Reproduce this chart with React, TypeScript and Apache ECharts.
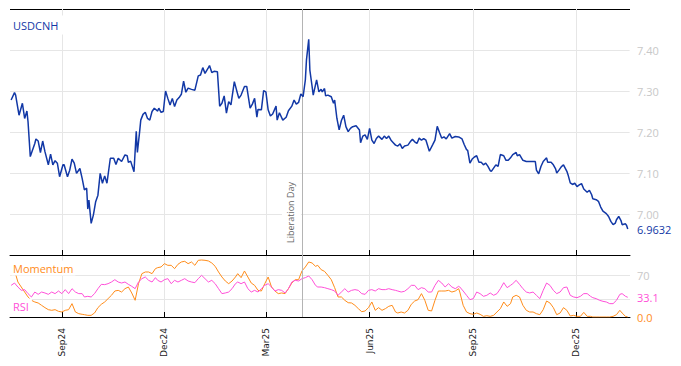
import React, { useEffect, useRef } from 'react';
import * as echarts from 'echarts';

const mainDates = [
  '2024-07-18','2024-07-21','2024-07-22','2024-07-25','2024-07-28','2024-07-30','2024-08-01','2024-08-02','2024-08-04','2024-08-08',
  '2024-08-09','2024-08-11','2024-08-13','2024-08-15','2024-08-17','2024-08-20','2024-08-22','2024-08-24','2024-08-26','2024-08-28',
  '2024-08-30','2024-09-02','2024-09-03','2024-09-06','2024-09-08','2024-09-10','2024-09-12','2024-09-14','2024-09-17','2024-09-19',
  '2024-09-21','2024-09-23','2024-09-24','2024-09-25','2024-09-27','2024-09-29','2024-10-01','2024-10-03','2024-10-05','2024-10-07',
  '2024-10-09','2024-10-11','2024-10-14','2024-10-17','2024-10-19','2024-10-21','2024-10-24','2024-10-27','2024-10-29','2024-10-30',
  '2024-11-01','2024-11-04','2024-11-06','2024-11-07','2024-11-09','2024-11-10','2024-11-12','2024-11-14','2024-11-16','2024-11-18',
  '2024-11-20','2024-11-22','2024-11-25','2024-11-26','2024-11-28','2024-11-30','2024-12-02','2024-12-04','2024-12-06','2024-12-08',
  '2024-12-10','2024-12-12','2024-12-14','2024-12-16','2024-12-18','2024-12-20','2024-12-22','2024-12-25','2024-12-28','2024-12-31',
  '2025-01-02','2025-01-04','2025-01-06','2025-01-09','2025-01-10','2025-01-12','2025-01-14','2025-01-17','2025-01-19','2025-01-21',
  '2025-01-23','2025-01-25','2025-01-27','2025-01-29','2025-02-01','2025-02-03','2025-02-05','2025-02-07','2025-02-10','2025-02-12',
  '2025-02-15','2025-02-17','2025-02-19','2025-02-21','2025-02-22','2025-02-25','2025-02-27','2025-03-01','2025-03-03','2025-03-05',
  '2025-03-07','2025-03-10','2025-03-11','2025-03-13','2025-03-16','2025-03-19','2025-03-21','2025-03-24','2025-03-26','2025-03-28',
  '2025-03-30','2025-04-01','2025-04-03','2025-04-05','2025-04-06','2025-04-08','2025-04-09','2025-04-11','2025-04-12','2025-04-14',
  '2025-04-15','2025-04-17','2025-04-19','2025-04-20','2025-04-22','2025-04-23','2025-04-25','2025-04-28','2025-04-30','2025-05-01',
  '2025-05-03','2025-05-05','2025-05-07','2025-05-09','2025-05-11','2025-05-13','2025-05-15','2025-05-17','2025-05-20','2025-05-23',
  '2025-05-24','2025-05-26','2025-05-28','2025-05-30','2025-06-01','2025-06-03','2025-06-05','2025-06-07','2025-06-09','2025-06-12',
  '2025-06-14','2025-06-16','2025-06-18','2025-06-20','2025-06-22','2025-06-24','2025-06-26','2025-06-28','2025-06-30','2025-07-02',
  '2025-07-05','2025-07-07','2025-07-09','2025-07-11','2025-07-13','2025-07-15','2025-07-17','2025-07-19','2025-07-21','2025-07-24',
  '2025-07-27','2025-07-29','2025-07-31','2025-08-02','2025-08-04','2025-08-06','2025-08-08','2025-08-11','2025-08-13','2025-08-16',
  '2025-08-19','2025-08-22','2025-08-24','2025-08-26','2025-08-27','2025-08-29','2025-08-31','2025-09-02','2025-09-04','2025-09-06',
  '2025-09-08','2025-09-10','2025-09-12','2025-09-14','2025-09-16','2025-09-17','2025-09-19','2025-09-21','2025-09-23','2025-09-25',
  '2025-09-28','2025-09-30','2025-10-02','2025-10-04','2025-10-06','2025-10-09','2025-10-10','2025-10-12','2025-10-15','2025-10-18',
  '2025-10-21','2025-10-24','2025-10-26','2025-10-27','2025-10-29','2025-10-31','2025-11-02','2025-11-05','2025-11-06','2025-11-09',
  '2025-11-11','2025-11-13','2025-11-14','2025-11-16','2025-11-18','2025-11-20','2025-11-23','2025-11-24','2025-11-26','2025-11-28',
  '2025-11-30','2025-12-02','2025-12-04','2025-12-06','2025-12-08','2025-12-11','2025-12-13','2025-12-15','2025-12-16','2025-12-19',
  '2025-12-21','2025-12-23','2025-12-25','2025-12-28','2025-12-30','2026-01-01','2026-01-03','2026-01-05','2026-01-06','2026-01-08',
  '2026-01-10','2026-01-11','2026-01-14','2026-01-15','2026-01-16'
];

const usdcnh = [
  7.278,7.296,7.290,7.241,7.270,7.233,7.251,7.225,7.140,7.172,
  7.183,7.178,7.150,7.178,7.152,7.120,7.146,7.120,7.130,7.124,
  7.091,7.120,7.120,7.091,7.107,7.134,7.124,7.099,7.111,7.087,
  7.059,7.063,7.012,7.034,6.977,6.998,7.030,7.046,7.099,7.075,
  7.093,7.075,7.136,7.136,7.121,7.136,7.128,7.144,7.142,7.126,
  7.129,7.103,7.202,7.150,7.201,7.229,7.243,7.248,7.233,7.229,
  7.250,7.258,7.251,7.258,7.248,7.250,7.300,7.282,7.266,7.282,
  7.262,7.278,7.284,7.292,7.324,7.297,7.307,7.304,7.302,7.337,
  7.339,7.357,7.343,7.357,7.362,7.345,7.348,7.347,7.263,7.270,
  7.288,7.246,7.274,7.266,7.323,7.302,7.282,7.290,7.311,7.311,
  7.258,7.268,7.282,7.236,7.255,7.254,7.301,7.298,7.254,7.239,
  7.244,7.263,7.229,7.247,7.229,7.236,7.252,7.263,7.278,7.268,
  7.272,7.293,7.286,7.327,7.376,7.426,7.351,7.311,7.290,7.315,
  7.327,7.298,7.304,7.298,7.306,7.288,7.290,7.286,7.270,7.278,
  7.233,7.205,7.228,7.241,7.213,7.201,7.209,7.213,7.215,7.205,
  7.174,7.190,7.193,7.182,7.209,7.180,7.172,7.184,7.190,7.182,
  7.190,7.184,7.190,7.180,7.174,7.168,7.166,7.171,7.160,7.166,
  7.168,7.176,7.182,7.176,7.172,7.185,7.180,7.184,7.180,7.153,
  7.169,7.180,7.214,7.199,7.185,7.188,7.183,7.196,7.185,7.189,
  7.188,7.183,7.169,7.157,7.155,7.124,7.134,7.139,7.142,7.126,
  7.126,7.120,7.124,7.116,7.106,7.104,7.112,7.120,7.116,7.145,
  7.142,7.131,7.131,7.137,7.145,7.150,7.142,7.145,7.131,7.128,
  7.128,7.128,7.128,7.107,7.098,7.116,7.128,7.137,7.126,7.126,
  7.120,7.110,7.100,7.107,7.115,7.120,7.104,7.096,7.076,7.072,
  7.075,7.067,7.071,7.074,7.061,7.053,7.058,7.047,7.037,7.035,
  7.031,7.017,7.007,7.001,6.994,6.982,6.974,6.978,6.986,6.994,
  6.984,6.974,6.976,6.972,6.9632
];

const indicatorDates = [
  '2024-07-18','2024-07-21','2024-07-24','2024-07-27','2024-07-30','2024-08-02','2024-08-05','2024-08-08','2024-08-11','2024-08-14',
  '2024-08-17','2024-08-20','2024-08-23','2024-08-26','2024-08-29','2024-09-01','2024-09-04','2024-09-07','2024-09-10','2024-09-13',
  '2024-09-16','2024-09-19','2024-09-21','2024-09-24','2024-09-27','2024-09-30','2024-10-03','2024-10-06','2024-10-09','2024-10-12',
  '2024-10-15','2024-10-18','2024-10-21','2024-10-24','2024-10-27','2024-10-30','2024-11-02','2024-11-05','2024-11-08','2024-11-11',
  '2024-11-14','2024-11-17','2024-11-20','2024-11-23','2024-11-25','2024-11-28','2024-12-01','2024-12-04','2024-12-07','2024-12-10',
  '2024-12-13','2024-12-16','2024-12-19','2024-12-22','2024-12-25','2024-12-28','2024-12-31','2025-01-03','2025-01-06','2025-01-09',
  '2025-01-12','2025-01-15','2025-01-18','2025-01-21','2025-01-24','2025-01-27','2025-01-30','2025-02-02','2025-02-04','2025-02-07',
  '2025-02-10','2025-02-13','2025-02-16','2025-02-19','2025-02-22','2025-02-25','2025-02-28','2025-03-03','2025-03-06','2025-03-09',
  '2025-03-12','2025-03-15','2025-03-18','2025-03-21','2025-03-24','2025-03-27','2025-03-30','2025-04-02','2025-04-05','2025-04-08',
  '2025-04-11','2025-04-14','2025-04-16','2025-04-19','2025-04-22','2025-04-25','2025-04-28','2025-05-01','2025-05-04','2025-05-07',
  '2025-05-10','2025-05-13','2025-05-16','2025-05-19','2025-05-22','2025-05-25','2025-05-28','2025-05-31','2025-06-03','2025-06-06',
  '2025-06-09','2025-06-12','2025-06-15','2025-06-18','2025-06-21','2025-06-24','2025-06-26','2025-06-29','2025-07-02','2025-07-05',
  '2025-07-08','2025-07-11','2025-07-14','2025-07-17','2025-07-20','2025-07-23','2025-07-26','2025-07-29','2025-08-01','2025-08-04',
  '2025-08-07','2025-08-10','2025-08-13','2025-08-16','2025-08-19','2025-08-20','2025-08-23','2025-08-26','2025-08-29','2025-09-01',
  '2025-09-04','2025-09-07','2025-09-10','2025-09-13','2025-09-16','2025-09-19','2025-09-22','2025-09-25','2025-09-28','2025-10-01',
  '2025-10-04','2025-10-06','2025-10-09','2025-10-12','2025-10-15','2025-10-18','2025-10-21','2025-10-24','2025-10-27','2025-10-30',
  '2025-11-02','2025-11-05','2025-11-08','2025-11-11','2025-11-14','2025-11-17','2025-11-20','2025-11-23','2025-11-26','2025-11-29',
  '2025-12-02','2025-12-05','2025-12-08','2025-12-11','2025-12-14','2025-12-16','2025-12-19','2025-12-22','2025-12-25','2025-12-28',
  '2025-12-31','2026-01-03','2026-01-06','2026-01-09','2026-01-11','2026-01-14','2026-01-16'
];

const momentum = [
  69.9,78.3,58.7,50.3,41.9,33.6,28.0,25.2,23.5,19.6,
  15.7,12.3,11.2,12.3,9.5,8.4,11.2,12.3,22.4,8.4,
  5.6,4.5,3.9,2.8,2.8,6.7,15.7,21.3,25.2,30.8,
  36.4,43.6,44.7,41.9,47.5,50.3,40.3,28.0,55.9,72.7,
  75.5,75.5,72.7,81.1,82.8,83.9,89.5,86.7,86.7,81.1,
  88.4,92.3,93.4,89.5,92.3,86.7,95.1,95.6,95.1,94.0,
  90.6,85.0,75.5,67.1,60.4,55.9,60.4,67.1,72.7,66.0,
  77.2,67.1,57.0,53.1,44.7,43.6,55.9,67.1,50.3,43.6,
  39.2,40.3,39.2,47.5,57.0,62.6,62.6,77.2,83.9,92.3,
  90.6,85.0,86.7,79.4,76.6,69.9,62.6,49.2,33.6,33.6,
  28.0,24.0,23.5,19.6,14.0,8.9,10.1,15.7,25.2,11.2,
  15.7,11.2,14.0,17.9,19.6,8.4,6.7,8.4,6.7,11.2,
  21.3,26.8,29.1,39.2,28.0,11.2,10.1,28.0,43.6,43.6,
  43.6,44.7,41.9,43.6,47.5,41.9,19.6,8.4,5.6,4.5,
  6.7,4.5,1.1,2.2,1.1,2.8,8.4,14.0,25.2,17.9,
  22.4,33.6,36.4,33.6,19.6,11.2,8.4,8.4,5.6,3.9,
  12.3,26.8,23.5,15.7,3.9,6.7,15.7,11.2,1.7,2.8,
  1.1,1.1,7.8,1.1,1.1,0,0,0,0,0,
  0,1.1,3.9,11.2,6.7,1.1,0
];

const rsi = [
  53.1,57.0,50.3,44.7,45.9,39.2,33.6,41.9,38.0,41.9,
  40.3,38.0,41.9,39.2,43.6,39.2,45.9,39.2,47.5,41.9,
  39.2,39.2,33.6,34.7,33.6,39.2,47.5,54.8,54.3,55.9,
  58.7,62.6,58.7,57.0,58.7,54.8,51.5,47.5,58.7,64.3,
  67.1,61.5,58.7,66.0,61.5,58.7,62.6,64.3,55.9,61.5,
  58.7,61.5,64.3,60.4,58.7,57.6,64.3,69.9,64.3,58.7,
  61.5,55.9,47.5,39.2,40.3,41.9,47.5,55.9,58.7,55.9,
  58.7,47.5,41.9,44.7,41.9,47.5,53.1,55.9,50.3,43.6,
  45.9,44.7,40.3,47.5,58.7,61.5,60.4,64.3,66.0,68.8,
  62.6,53.1,50.3,50.3,49.2,47.5,45.9,43.6,36.4,41.9,
  47.5,41.9,44.7,45.9,44.7,39.2,38.0,44.7,45.9,43.6,
  47.5,45.9,45.9,47.5,45.9,44.7,43.6,41.9,43.1,47.5,
  53.1,53.1,45.9,49.2,47.5,41.9,41.9,53.1,61.5,57.0,
  50.3,55.9,50.3,47.5,51.5,50.3,43.6,36.4,29.1,30.8,
  41.9,39.2,34.7,36.4,40.3,36.4,39.2,47.5,57.6,49.2,
  53.1,55.9,61.5,54.8,47.5,41.9,40.3,41.9,36.4,30.8,
  44.7,57.0,53.1,44.7,39.2,41.9,49.2,50.3,36.4,33.6,
  32.4,34.7,39.2,39.2,34.7,32.4,30.8,28.0,26.3,25.2,
  22.4,22.4,28.0,38.0,39.2,34.7,33.1
];

const xTickDates = ['2024-09-01', '2024-12-01', '2025-03-01', '2025-06-01', '2025-09-01', '2025-12-01'];
const xRange = ['2024-07-17', '2026-01-18'];
const priceTicks = [7.0, 7.1, 7.2, 7.3, 7.4];
const priceRange = [6.9, 7.5];
const indicatorGridValues = [30, 70];
const indicatorTickLabels = [70];
const indicatorRange = [0, 104];
const eventDate = '2025-04-02';
const eventName = 'Liberation Day';
const MONTHS = ['Jan', 'Feb', 'Mar', 'Apr', 'May', 'Jun', 'Jul', 'Aug', 'Sep', 'Oct', 'Nov', 'Dec'];

const toMs = (s: string) => {
  const [y, m, d] = s.split('-').map(Number);
  return Date.UTC(y, m - 1, d);
};

export default function App() {
  const ref = useRef<HTMLDivElement>(null);
  useEffect(() => {
    document.body.style.margin = '0';
    const chart = echarts.init(ref.current!, null, { renderer: 'svg' });
    const FONT = '"Open Sans", sans-serif';
    const BLUE = '#1238a6';
    const ORANGE = '#ff8c1a';
    const PINK = '#ff50d8';
    const GRIDC = '#e6e6e6';
    const LABELC = '#c8c8c8';
    const xMin = toMs(xRange[0]);
    const xMax = toMs(xRange[1]);
    const xTicks = xTickDates.map(toMs);
    const fmtDate = (v: number) => {
      const d = new Date(v);
      return MONTHS[d.getUTCMonth()] + String(d.getUTCFullYear()).slice(2);
    };
    const mainData = mainDates.map((d, i) => [toMs(d), usdcnh[i]]);
    const momData = indicatorDates.map((d, i) => [toMs(d), momentum[i]]);
    const rsiData = indicatorDates.map((d, i) => [toMs(d), rsi[i]]);
    const eventMs = toMs(eventDate);

    const lastPrice = usdcnh[usdcnh.length - 1];
    const lastMom = momentum[momentum.length - 1];
    const lastRsi = rsi[rsi.length - 1];

    const priceLineValues = [...priceTicks, priceRange[1]];
    const priceLineColors = priceLineValues.map((v) => (v === priceRange[1] ? '#000' : GRIDC));

    const mkX = (gridIndex: number, labels: boolean): any => ({
      type: 'value',
      gridIndex,
      position: 'bottom',
      min: xMin,
      max: xMax,
      axisLine: { show: true, onZero: false, lineStyle: { color: '#000', width: 1 } },
      axisTick: { show: true, inside: true, length: 5, customValues: xTicks, lineStyle: { color: '#000', width: 1 } },
      splitLine: { show: true, lineStyle: { color: GRIDC, width: 1 } },
      axisLabel: labels
        ? {
            show: true, customValues: xTicks, rotate: 90, margin: 11, formatter: fmtDate,
            color: '#1a1a1a', fontFamily: 'DejaVu Sans', fontSize: 9,
          }
        : { show: false },
    });

    const richBase = { fontFamily: FONT, fontSize: 11 };

    const option: any = {
      animation: false,
      grid: [
        { left: 10, right: 51, top: 9, height: 246 },
        { left: 10, right: 51, top: 255, height: 62 },
      ],
      xAxis: [mkX(0, false), mkX(1, true)],
      yAxis: [
        {
          type: 'value', gridIndex: 0, position: 'right', min: priceRange[0], max: priceRange[1],
          axisLine: { show: false },
          axisTick: { show: false, customValues: priceLineValues },
          axisLabel: {
            customValues: [lastPrice, ...priceTicks],
            formatter: (v: number) => (v === lastPrice ? '{last|' + v.toFixed(4) + '}' : v.toFixed(2)),
            color: LABELC, fontFamily: FONT, fontSize: 11, margin: 7,
            rich: { last: { ...richBase, color: BLUE } },
          },
          splitLine: { show: true, lineStyle: { color: priceLineColors, width: 1 } },
        },
        {
          type: 'value', gridIndex: 1, position: 'right', min: indicatorRange[0], max: indicatorRange[1],
          axisLine: { show: false },
          axisTick: { show: false, customValues: indicatorGridValues },
          axisLabel: {
            customValues: [lastMom, lastRsi, ...indicatorTickLabels],
            formatter: (v: number) => {
              if (v === lastMom) return '{mom|' + v.toFixed(1) + '}';
              if (v === lastRsi) return '{rsi|' + v.toFixed(1) + '}';
              return String(v);
            },
            color: LABELC, fontFamily: FONT, fontSize: 11, margin: 7,
            rich: { mom: { ...richBase, color: ORANGE }, rsi: { ...richBase, color: PINK } },
          },
          splitLine: { show: true, lineStyle: { color: GRIDC, width: 1 } },
        },
      ],
      series: [
        {
          type: 'line', name: 'USDCNH', xAxisIndex: 0, yAxisIndex: 0, data: mainData,
          showSymbol: false, symbol: 'none', z: 5,
          lineStyle: { color: BLUE, width: 1.5 }, itemStyle: { color: BLUE },
          markLine: {
            silent: true, symbol: ['none', 'none'], animation: false,
            lineStyle: { color: '#b4b4b4', width: 1, type: 'solid' },
            label: {
              show: true, position: 'insideStartTop', formatter: eventName,
              color: '#666', fontFamily: FONT, fontSize: 9,
              backgroundColor: '#fff', padding: [4, 3, 6, 4], distance: [8, 1],
            },
            data: [{ xAxis: eventMs }],
          },
        },
        {
          type: 'line', name: 'Momentum', xAxisIndex: 1, yAxisIndex: 1, data: momData,
          showSymbol: false, symbol: 'none', z: 4,
          lineStyle: { color: ORANGE, width: 1 }, itemStyle: { color: ORANGE },
        },
        {
          type: 'line', name: 'RSI', xAxisIndex: 1, yAxisIndex: 1, data: rsiData,
          showSymbol: false, symbol: 'none', z: 4,
          lineStyle: { color: PINK, width: 1 }, itemStyle: { color: PINK },
          markLine: {
            silent: true, symbol: ['none', 'none'], animation: false,
            lineStyle: { color: '#b4b4b4', width: 1, type: 'solid' },
            label: { show: false },
            data: [{ xAxis: eventMs }],
          },
        },
      ],
      graphic: [
        {
          // masks a stray vertical edge line at the right side of the price panel
          type: 'rect', z: 99, silent: true,
          shape: { x: 629.6, y: 10, width: 5, height: 244 },
          style: { fill: '#fff' },
        },
        {
          type: 'text', x: 10, y: 25, z: 100,
          style: { text: 'USDCNH', fill: BLUE, font: '11px "Open Sans"', verticalAlign: 'middle', align: 'left', backgroundColor: '#fff', padding: [4, 7, 4, 3] },
        },
        {
          type: 'text', x: 10, y: 268, z: 100,
          style: { text: 'Momentum', fill: ORANGE, font: '11px "Open Sans"', verticalAlign: 'middle', align: 'left', backgroundColor: '#fff', padding: [2, 2, 2, 3] },
        },
        {
          type: 'text', x: 10, y: 306, z: 100,
          style: { text: 'RSI', fill: PINK, font: '11px "Open Sans"', verticalAlign: 'middle', align: 'left', backgroundColor: '#fff', padding: [2, 3, 2, 3] },
        },
      ],
    };
    chart.setOption(option);
    return () => chart.dispose();
  }, []);
  return <div ref={ref} style={{ width: 681, height: 366 }} />;
}
